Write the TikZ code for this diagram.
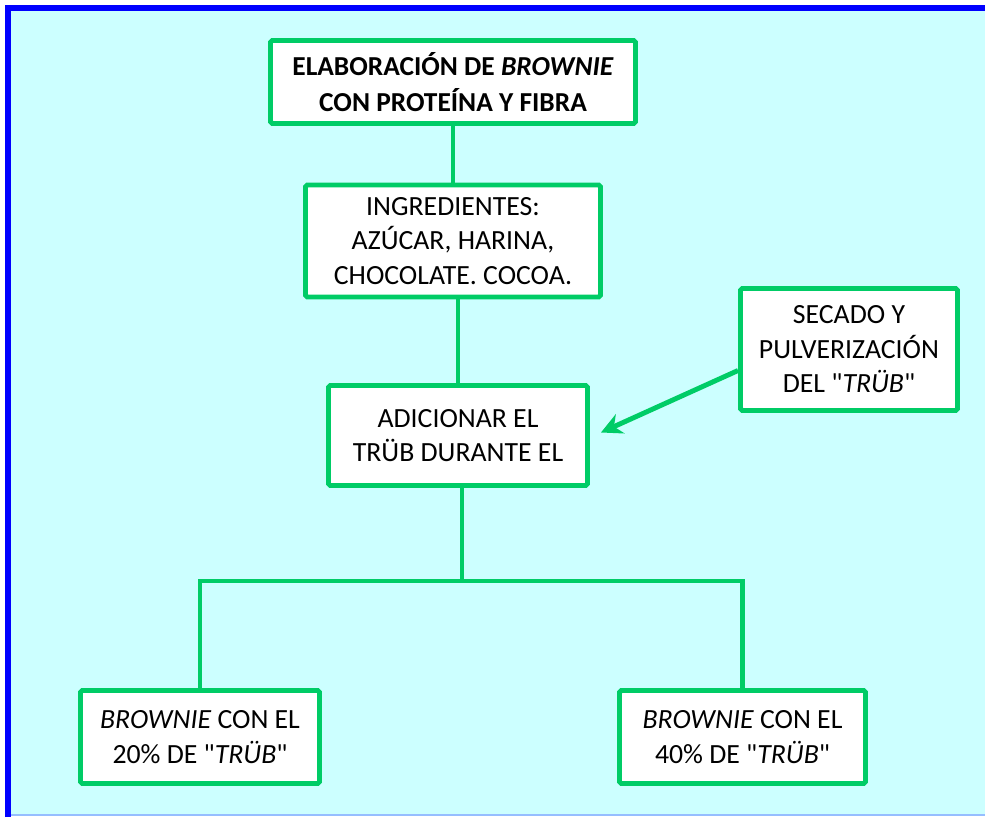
\documentclass[tikz,border=0pt]{standalone}
\usepackage{fontspec}
\setmainfont{Carlito}
\usepackage{xcolor}
\usetikzlibrary{arrows.meta, positioning, calc}
\definecolor{flowgreen}{RGB}{0,204,102}
\definecolor{bgcyan}{RGB}{204,255,255}
\definecolor{edgeblue}{RGB}{0,0,255}
\definecolor{thinblue}{RGB}{150,190,255}
\newcommand{\qt}{\textquotedbl}

\begin{document}
\begin{tikzpicture}[
  box/.style={draw=flowgreen, line width=2.8pt, fill=white, rounded corners=1pt, align=center,
    font=\fontsize{15.8}{19.6}\selectfont, inner sep=2pt},
  edge/.style={draw=flowgreen, line width=2.6pt},
  arr/.style={draw=flowgreen, line width=2.8pt, -{Stealth[length=0.42cm, width=0.42cm]}}
]
\useasboundingbox (0,0) rectangle (19.7,16.34);
% frame
\fill[bgcyan] (0.18,0.04) rectangle (19.7,16.16);
\draw[thinblue, line width=0.6pt] (0.18,0.04) -- (19.7,0.04);
\draw[edgeblue, line width=3.2pt] (0.16,0.0) -- (0.16,16.18) -- (19.8,16.18);

\node[box, minimum width=7.3cm, minimum height=1.66cm, font=\fontsize{15.6}{20.5}\selectfont\bfseries] (Title) at (9.06,14.70)
  {ELABORACIÓN DE \textit{BROWNIE}\\CON PROTEÍNA Y FIBRA};
\node[box, minimum width=5.9cm, minimum height=2.24cm] (Ingr) at (9.06,11.52)
  {INGREDIENTES:\\AZÚCAR, HARINA,\\CHOCOLATE. COCOA.};
\node[box, minimum width=5.18cm, minimum height=2.0cm] (Add) at (9.16,7.63)
  {ADICIONAR EL\\TRÜB DURANTE EL};
\node[box, minimum width=4.34cm, minimum height=2.44cm] (Dry) at (16.98,9.35)
  {SECADO Y\\PULVERIZACIÓN\\DEL \qt\textit{TRÜB}\qt};
\node[box, minimum width=4.78cm, minimum height=1.86cm] (Low) at (4.0,1.6)
  {\textit{BROWNIE} CON EL\\20\% DE \qt\textit{TRÜB}\qt};
\node[box, minimum width=4.92cm, minimum height=1.86cm] (High) at (14.85,1.6)
  {\textit{BROWNIE} CON EL\\40\% DE \qt\textit{TRÜB}\qt};

\coordinate (fork) at ($(Add.south)+(0.08,-1.86)$);

\draw[edge] (Title) -- (Ingr);
\draw[edge] (Add.north) -- (Add.north |- Ingr.south);
\draw[edge] ([xshift=0.08cm]Add.south) -- (fork);
\draw[edge] (Low.north) |- (fork);
\draw[edge] (High.north) |- (fork);
\draw[arr] ([yshift=-0.42cm]Dry.west) -- ([xshift=0.22cm, yshift=0.06cm]Add.east);

\end{tikzpicture}
\end{document}
